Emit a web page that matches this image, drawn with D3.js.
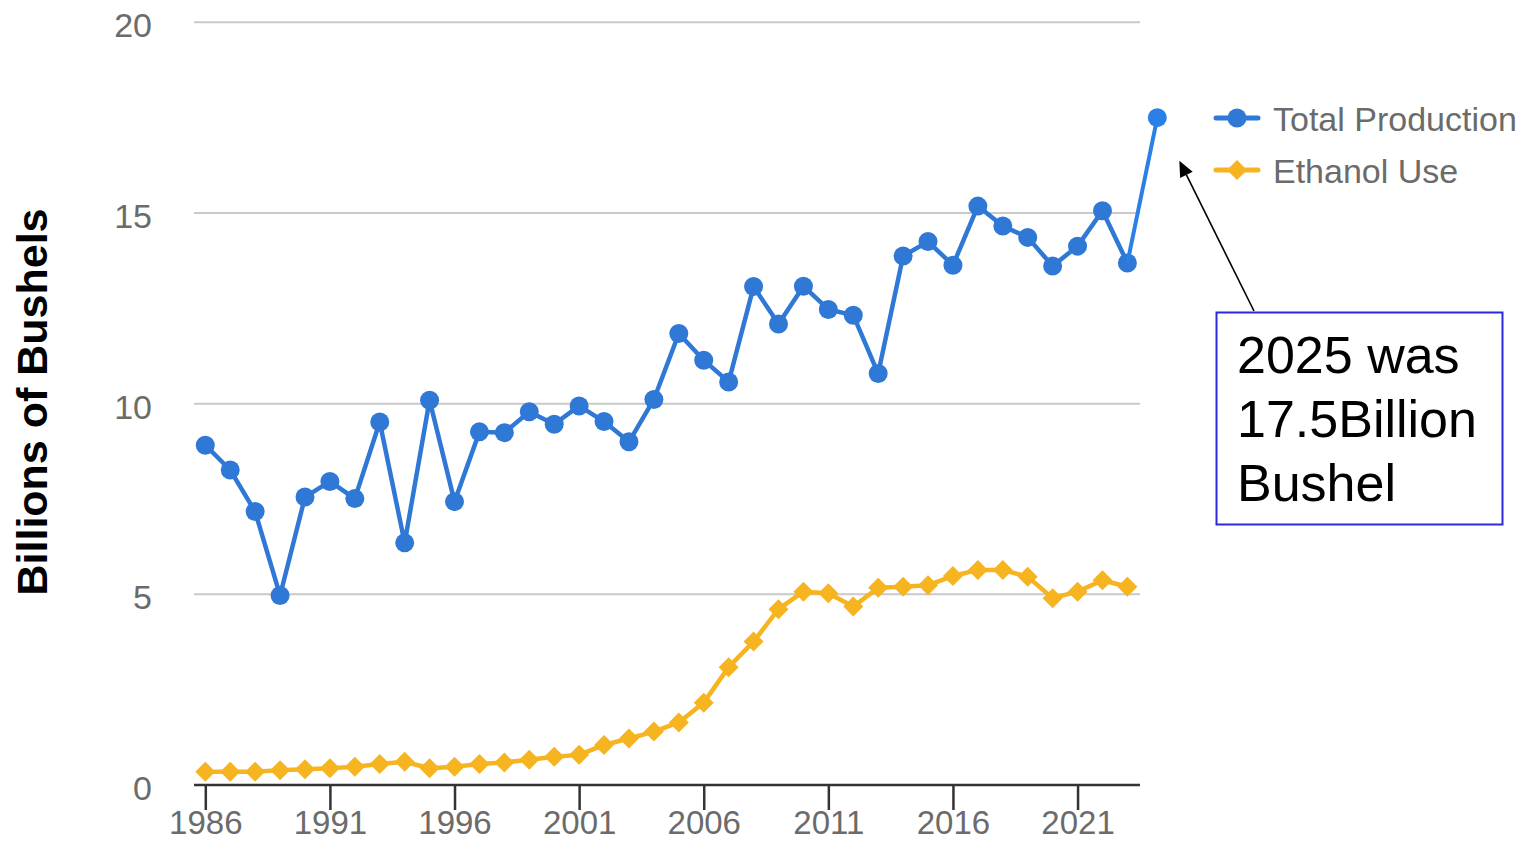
<!DOCTYPE html>
<html>
<head>
<meta charset="utf-8">
<script src="https://cdn.jsdelivr.net/npm/d3@7"></script>
<style>
  html, body { margin: 0; padding: 0; background: #fff; }
  svg { display: block; font-family: "Liberation Sans", Arial, sans-serif; }
</style>
</head>
<body>
<svg id="chart" width="1529" height="842"></svg>
<script>
// ---- data ----
const years = d3.range(1986, 2024); // 1986 .. 2023
const totalProduction = [
  8.91, 8.26, 7.17, 4.97, 7.55, 7.96, 7.51, 9.52, 6.35, 10.09,
  7.43, 9.26, 9.24, 9.79, 9.46, 9.94, 9.53, 9.00, 10.11, 11.84,
  11.14, 10.57, 13.07, 12.09, 13.08, 12.47, 12.32, 10.79, 13.87, 14.25,
  13.63, 15.18, 14.66, 14.36, 13.61, 14.13, 15.06, 13.69
];
const ethanolUse = [
  0.35, 0.35, 0.35, 0.39, 0.41, 0.44, 0.48, 0.55, 0.61, 0.44,
  0.48, 0.55, 0.59, 0.66, 0.74, 0.79, 1.05, 1.22, 1.40, 1.64,
  2.16, 3.09, 3.76, 4.61, 5.07, 5.03, 4.68, 5.17, 5.20, 5.24,
  5.48, 5.64, 5.64, 5.46, 4.90, 5.07, 5.37, 5.20
];
const extraPointYear = [2024.2];   // the added "2025" point (drawn just right of the last year)
const extraPointValue = [17.5];
const xTickValues = [1986, 1991, 1996, 2001, 2006, 2011, 2016, 2021];
const yTickValues = [0, 5, 10, 15, 20];
const seriesNames = ["Total Production", "Ethanol Use"];
const yTitle = "Billions of Bushels";
const noteLines = ["2025 was", "17.5Billion", "Bushel"];

// ---- styles ----
const BLUE = "#2f78d6", BLUE_BRIGHT = "#2b80e8", GOLD = "#f5b420";
const TEXT_GREY = "#6b6b6b";

const svg = d3.select("#chart");

const x = d3.scaleLinear().domain([1986, 2023]).range([205.3, 1127.4]);
const y = d3.scaleLinear().domain([0, 20]).range([785, 22.3]);
const plotLeft = 194, plotRight = 1140;

// gridlines
svg.append("g").selectAll("line")
  .data(yTickValues.filter(v => v > 0))
  .join("line")
  .attr("x1", plotLeft).attr("x2", plotRight)
  .attr("y1", d => y(d)).attr("y2", d => y(d))
  .attr("stroke", "#c9c9c9").attr("stroke-width", 2);

// y labels
svg.append("g").selectAll("text")
  .data(yTickValues)
  .join("text")
  .attr("x", 152).attr("y", d => y(d) + 15)
  .attr("text-anchor", "end")
  .attr("font-size", 34).attr("fill", TEXT_GREY)
  .text(d => d);

// x axis
const xAxis = d3.axisBottom(x)
  .tickValues(xTickValues)
  .tickFormat(d3.format("d"))
  .tickSize(25)
  .tickSizeOuter(0);
const gx = svg.append("g").attr("transform", `translate(0,${y(0)})`).call(xAxis);
gx.select(".domain").remove();
gx.append("line").attr("x1", plotLeft).attr("x2", plotRight)
  .attr("y1", 0).attr("y2", 0).attr("stroke", "#333").attr("stroke-width", 2.5);
gx.selectAll(".tick line").attr("stroke", "#333").attr("stroke-width", 2.5);
gx.selectAll(".tick text")
  .attr("font-size", 33).attr("fill", TEXT_GREY)
  .attr("font-family", "'Liberation Sans', Arial, sans-serif")
  .attr("dy", null).attr("y", 49);

// y title
svg.append("text")
  .attr("transform", `translate(47,402) rotate(-90)`)
  .attr("text-anchor", "middle")
  .attr("font-size", 43).attr("font-weight", "bold").attr("fill", "#000")
  .text(yTitle);

// lines
const line = d3.line().x(d => x(d[0])).y(d => y(d[1]));
const prodPts = years.map((yr, i) => [yr, totalProduction[i]]);
const ethPts = years.map((yr, i) => [yr, ethanolUse[i]]);

svg.append("path").datum(ethPts).attr("d", line)
  .attr("fill", "none").attr("stroke", GOLD).attr("stroke-width", 4.5)
  .attr("stroke-linejoin", "round");
svg.append("g").selectAll("path")
  .data(ethPts).join("path")
  .attr("transform", d => `translate(${x(d[0])},${y(d[1])})`)
  .attr("d", "M0,-10L10,0L0,10L-10,0Z")
  .attr("fill", GOLD);

svg.append("path").datum(prodPts).attr("d", line)
  .attr("fill", "none").attr("stroke", BLUE).attr("stroke-width", 4.5)
  .attr("stroke-linejoin", "round");
svg.append("g").selectAll("circle")
  .data(prodPts).join("circle")
  .attr("cx", d => x(d[0])).attr("cy", d => y(d[1]))
  .attr("r", 9.5).attr("fill", BLUE);

// added 2025 point
const lastPt = prodPts[prodPts.length - 1];
const extraPts = extraPointYear.map((yr, i) => [yr, extraPointValue[i]]);
svg.append("path").datum([lastPt].concat(extraPts)).attr("d", line)
  .attr("fill", "none").attr("stroke", BLUE_BRIGHT).attr("stroke-width", 4);
svg.append("g").selectAll("circle")
  .data(extraPts).join("circle")
  .attr("cx", d => x(d[0])).attr("cy", d => y(d[1]))
  .attr("r", 9.5).attr("fill", BLUE_BRIGHT);

// legend
const legend = svg.append("g");
const legendRows = [
  { name: seriesNames[0], color: BLUE, shape: "circle", cy: 118 },
  { name: seriesNames[1], color: GOLD, shape: "diamond", cy: 170 }
];
legendRows.forEach(r => {
  legend.append("line").attr("x1", 1216).attr("x2", 1258)
    .attr("y1", r.cy).attr("y2", r.cy)
    .attr("stroke", r.color).attr("stroke-width", 5).attr("stroke-linecap", "round");
  if (r.shape === "circle") {
    legend.append("circle").attr("cx", 1237).attr("cy", r.cy).attr("r", 9.5).attr("fill", r.color);
  } else {
    legend.append("path").attr("transform", `translate(1237,${r.cy})`)
      .attr("d", "M0,-10L10,0L0,10L-10,0Z").attr("fill", r.color);
  }
  legend.append("text").attr("x", 1273).attr("y", r.cy + 13)
    .attr("font-size", 34).attr("fill", TEXT_GREY).text(r.name);
});

// annotation arrow + box
const ex = x(extraPts[0][0]), ey = y(extraPts[0][1]);
const tip = [ex + 22, ey + 43];
const tail = [1254, 311];
const ang = Math.atan2(tip[1] - tail[1], tip[0] - tail[0]);
const headLen = 16, headW = 7;
const baseX = tip[0] - headLen * Math.cos(ang), baseY = tip[1] - headLen * Math.sin(ang);
svg.append("line")
  .attr("x1", tail[0]).attr("y1", tail[1])
  .attr("x2", baseX).attr("y2", baseY)
  .attr("stroke", "#000").attr("stroke-width", 1.6);
svg.append("path")
  .attr("d", `M${tip[0]},${tip[1]}
    L${baseX + headW * Math.sin(ang)},${baseY - headW * Math.cos(ang)}
    L${baseX - headW * Math.sin(ang)},${baseY + headW * Math.cos(ang)}Z`)
  .attr("fill", "#000");

svg.append("rect")
  .attr("x", 1216.5).attr("y", 312.5).attr("width", 286).attr("height", 212)
  .attr("fill", "#fff").attr("stroke", "#2a2ad8").attr("stroke-width", 2);
svg.append("g").selectAll("text")
  .data(noteLines).join("text")
  .attr("x", 1237).attr("y", (d, i) => 373 + i * 64)
  .attr("font-size", 52).attr("fill", "#000")
  .text(d => d);
</script>
</body>
</html>
